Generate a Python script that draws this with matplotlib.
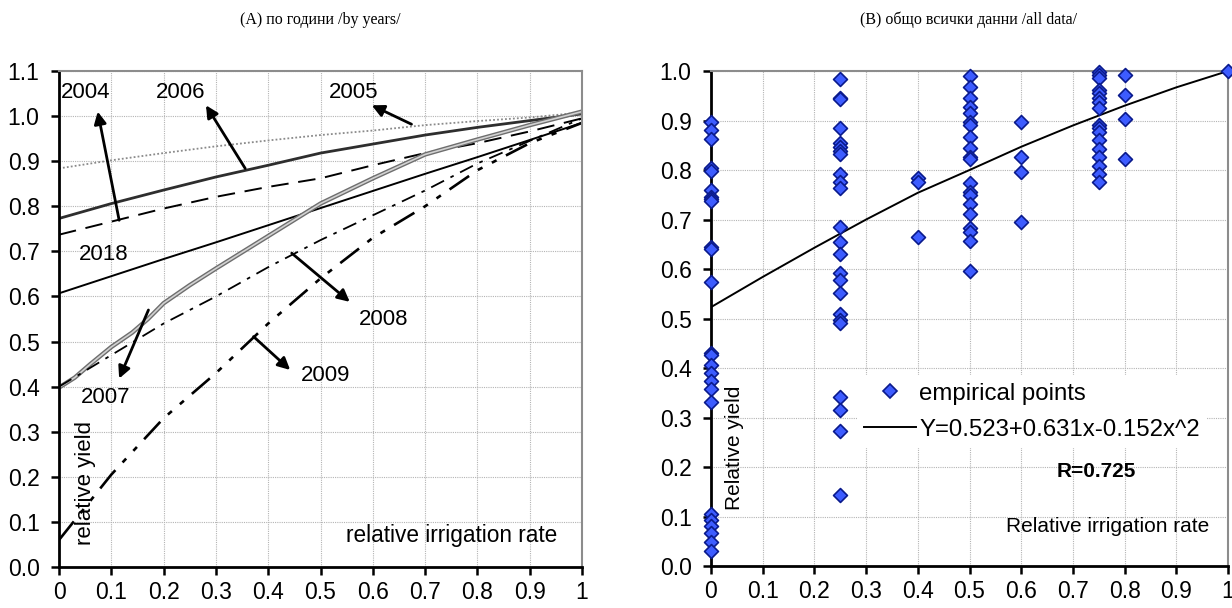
import matplotlib
matplotlib.use('Agg')
import matplotlib.pyplot as plt
import numpy as np
from matplotlib.lines import Line2D

plt.rcParams['font.family'] = ['Liberation Sans', 'DejaVu Sans']

# ---- panel A: relative yield by years ----
rate_grid = [0.0, 0.1, 0.2, 0.3, 0.4, 0.5, 0.6, 0.7, 0.8, 0.9, 1.0]
yield_2005 = [0.884, 0.902, 0.918, 0.933, 0.946, 0.958, 0.968, 0.980, 0.989, 0.997, 1.008]
yield_2006 = [0.773, 0.806, 0.836, 0.865, 0.891, 0.918, 0.938, 0.958, 0.975, 0.990, 1.005]
yield_2004 = [0.737, 0.766, 0.795, 0.821, 0.843, 0.862, 0.891, 0.918, 0.940, 0.966, 0.995]
yield_2018 = [0.607, 0.645, 0.683, 0.720, 0.758, 0.796, 0.834, 0.872, 0.909, 0.947, 0.985]
yield_2008 = [0.400, 0.470, 0.540, 0.600, 0.665, 0.725, 0.780, 0.835, 0.895, 0.945, 0.995]
yield_2009 = [0.060, 0.205, 0.330, 0.430, 0.540, 0.640, 0.730, 0.800, 0.880, 0.940, 0.985]

rate_2007 = [0.0, 0.03, 0.06, 0.1, 0.14, 0.17, 0.2, 0.25, 0.3, 0.4, 0.5, 0.6, 0.7, 0.8, 0.9, 1.0]
yield_2007 = [0.398, 0.420, 0.450, 0.488, 0.520, 0.550, 0.585, 0.625, 0.662, 0.734, 0.806,
              0.862, 0.915, 0.948, 0.980, 1.010]

# ---- panel B: all empirical points ----
yield_at_000 = [0.897, 0.880, 0.863, 0.805, 0.798, 0.760, 0.746, 0.741, 0.737, 0.645, 0.641,
                0.574, 0.431, 0.426, 0.406, 0.389, 0.374, 0.357, 0.332, 0.106, 0.093, 0.081,
                0.067, 0.049, 0.031]
yield_at_025 = [0.984, 0.945, 0.943, 0.884, 0.854, 0.846, 0.839, 0.832, 0.792, 0.776, 0.763,
                0.685, 0.655, 0.630, 0.591, 0.578, 0.551, 0.510, 0.497, 0.490, 0.341, 0.315,
                0.273, 0.143]
yield_at_040 = [0.783, 0.776, 0.665]
yield_at_050 = [0.990, 0.968, 0.945, 0.928, 0.915, 0.898, 0.890, 0.867, 0.844, 0.826, 0.822,
                0.774, 0.756, 0.750, 0.731, 0.712, 0.683, 0.674, 0.657, 0.597]
yield_at_060 = [0.896, 0.827, 0.795, 0.694]
yield_at_075 = [0.999, 0.992, 0.985, 0.962, 0.956, 0.945, 0.938, 0.925, 0.891, 0.884, 0.877,
                0.861, 0.842, 0.827, 0.808, 0.792, 0.775]
yield_at_080 = [0.992, 0.952, 0.904, 0.822]
yield_at_100 = [1.0]
point_groups = [(0.0, yield_at_000), (0.25, yield_at_025), (0.4, yield_at_040),
                (0.5, yield_at_050), (0.6, yield_at_060), (0.75, yield_at_075),
                (0.8, yield_at_080), (1.0, yield_at_100)]

fit_rate = [0.0, 0.1, 0.2, 0.3, 0.4, 0.5, 0.6, 0.7, 0.8, 0.9, 1.0]
fit_yield = [0.523, 0.584, 0.643, 0.700, 0.754, 0.800, 0.847, 0.890, 0.930, 0.967, 1.000]

x_ticks = [0, 0.1, 0.2, 0.3, 0.4, 0.5, 0.6, 0.7, 0.8, 0.9, 1.0]
x_tick_labels = ['0', '0.1', '0.2', '0.3', '0.4', '0.5', '0.6', '0.7', '0.8', '0.9', '1']


def style_axes(ax, ymax):
    ax.set_xlim(0, 1)
    ax.set_ylim(0, ymax)
    ax.set_xticks(x_ticks)
    ax.set_xticklabels(x_tick_labels)
    yt = np.round(np.arange(0, ymax + 0.001, 0.1), 1)
    ax.set_yticks(yt)
    ax.set_yticklabels([f'{v:.1f}' for v in yt])
    ax.tick_params(labelsize=16.5, length=6, width=1.8, direction='out', pad=4)
    ax.tick_params(axis='y', pad=8)
    ax.grid(True, color='#b4b4b4', linestyle=(0, (1, 1)), linewidth=0.8)
    ax.set_axisbelow(True)
    for side in ['left', 'bottom']:
        ax.spines[side].set_color('black')
        ax.spines[side].set_linewidth(2)
    for side in ['top', 'right']:
        ax.spines[side].set_color('#8c8c8c')
        ax.spines[side].set_linewidth(1.5)


fig = plt.figure(figsize=(12.32, 6.08), dpi=100)

# ---------------- panel A ----------------
ax1 = fig.add_axes([0.0479, 0.0674, 0.4245, 0.8158])
style_axes(ax1, 1.1)

ax1.plot(rate_grid, yield_2005, color='#8a8a8a', linestyle=(0, (1, 1.2)), linewidth=1.3)
ax1.plot(rate_grid, yield_2006, color='#2e2e2e', linewidth=2.0)
ax1.plot(rate_grid, yield_2004, color='black', linestyle=(0, (9, 5)), linewidth=1.4)
ax1.plot(rate_grid, yield_2018, color='black', linewidth=1.4)
ax1.plot(rate_2007, yield_2007, color='#6e6e6e', linewidth=3.2)
ax1.plot(rate_2007, yield_2007, color='#d2d2d2', linewidth=1.2)
ax1.plot(rate_grid, yield_2008, color='black', linestyle=(0, (8, 4, 2, 4)), linewidth=1.3)
ax1.plot(rate_grid, yield_2009, color='black', linestyle=(0, (9, 4, 2, 4, 2, 4)), linewidth=1.9)

arrow = dict(arrowstyle='-|>', color='black', lw=2, mutation_scale=18, shrinkA=0, shrinkB=0)
ax1.text(0.05, 1.052, '2004', fontsize=16, ha='center', va='center')
ax1.annotate('', xy=(0.074, 1.01), xytext=(0.115, 0.769), arrowprops=arrow)
ax1.text(0.233, 1.052, '2006', fontsize=16, ha='center', va='center')
ax1.annotate('', xy=(0.281, 1.024), xytext=(0.356, 0.884), arrowprops=arrow)
ax1.text(0.564, 1.052, '2005', fontsize=16, ha='center', va='center')
ax1.annotate('', xy=(0.598, 1.024), xytext=(0.674, 0.982), arrowprops=arrow)
ax1.text(0.086, 0.692, '2018', fontsize=16, ha='center', va='center')
ax1.text(0.09, 0.375, '2007', fontsize=16, ha='center', va='center')
ax1.annotate('', xy=(0.115, 0.418), xytext=(0.171, 0.570), arrowprops=arrow)
ax1.text(0.621, 0.548, '2008', fontsize=16, ha='center', va='center')
ax1.annotate('', xy=(0.556, 0.588), xytext=(0.445, 0.696), arrowprops=arrow)
ax1.text(0.509, 0.424, '2009', fontsize=16, ha='center', va='center')
ax1.annotate('', xy=(0.442, 0.437), xytext=(0.372, 0.511), arrowprops=arrow)
ax1.text(0.05, 0.186, 'relative yield', fontsize=16, rotation=90, ha='center', va='center')
ax1.text(0.75, 0.071, 'relative irrigation rate', fontsize=16.3, ha='center', va='center')

fig.text(0.26, 0.967, '(A) по години /by years/', family='Liberation Serif',
         fontsize=11.5, ha='center', va='center')

# ---------------- panel B ----------------
ax2 = fig.add_axes([0.5771, 0.069, 0.4197, 0.8142])
style_axes(ax2, 1.0)

for rate, ys in point_groups:
    ax2.scatter([rate] * len(ys), ys, marker='D', s=50, facecolor='#3d5cff',
                edgecolor='#0a1a8c', linewidth=1.2, zorder=4, clip_on=False)
ax2.plot(fit_rate, fit_yield, color='black', linewidth=1.4, zorder=3)

handles = [
    Line2D([], [], marker='D', linestyle='none', markersize=7.5, markerfacecolor='#3d5cff',
           markeredgecolor='#0a1a8c', markeredgewidth=1.2),
    Line2D([], [], color='black', linewidth=1.4),
]
leg = ax2.legend(handles, ['empirical points', 'Y=0.523+0.631x-0.152x^2'],
                 loc='upper left', bbox_to_anchor=(0.282, 0.385), borderaxespad=0,
                 fontsize=17.3, frameon=True, facecolor='white', edgecolor='none',
                 framealpha=1, handlelength=2.15, handletextpad=0.15, borderpad=0.3,
                 labelspacing=0.59)
leg.set_zorder(2.5)

ax2.text(0.745, 0.19, 'R=0.725', fontsize=15, fontweight='bold', ha='center', va='center',
         zorder=5)
ax2.text(0.046, 0.238, 'Relative yield', fontsize=15, rotation=90, ha='center', va='center')
ax2.text(0.768, 0.079, 'Relative irrigation rate', fontsize=15, ha='center', va='center',
         zorder=5)

fig.text(0.786, 0.967, '(B) общо всички данни /all data/', family='Liberation Serif',
         fontsize=11.5, ha='center', va='center')

fig.savefig('out.png', dpi=100)
